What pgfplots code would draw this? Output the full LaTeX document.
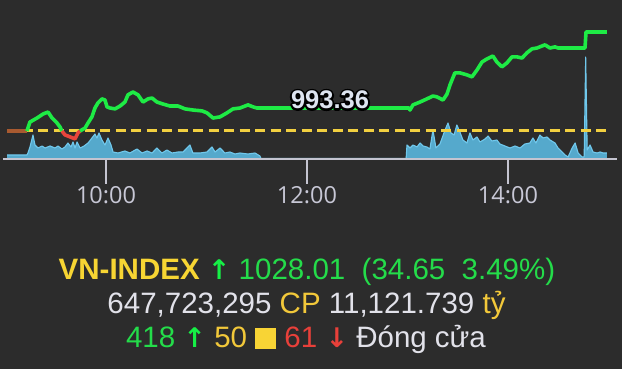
\documentclass[border=0pt]{standalone}
\usepackage{pgfplots}
\pgfplotsset{compat=1.18}
\usepackage{pgfplotstable}
\usepackage{fontspec}
\setmainfont{Liberation Sans}
\newfontfamily\tickfont{Open Sans}
\newfontfamily\arrowfont{DejaVu Sans}
\definecolor{bg}{HTML}{2C2C2C}
\definecolor{axisc}{HTML}{C4C4D0}
\definecolor{tickc}{HTML}{C8C8D6}
\definecolor{volfill}{HTML}{55A9CC}
\definecolor{volline}{HTML}{70C8EC}
\definecolor{refy}{HTML}{F2D040}
\definecolor{pgreen}{HTML}{1EEB45}
\definecolor{pred}{HTML}{E8453C}
\definecolor{pbrown}{HTML}{A85A30}
\definecolor{lbl}{HTML}{DDE4F0}
\definecolor{tyel}{HTML}{F7D533}
\definecolor{tyel2}{HTML}{F2C83A}
\definecolor{tgrn}{HTML}{24DC4A}
\definecolor{agrn}{HTML}{16F046}
\definecolor{tgrey}{HTML}{E2E2EA}
\definecolor{tred}{HTML}{E8403A}
\definecolor{sqy}{HTML}{F8D435}
\newcommand\up{{\arrowfont\bfseries\fontsize{27}{27}\selectfont ↑}}
\newcommand\down{{\arrowfont\bfseries\fontsize{27}{27}\selectfont ↓}}

\pgfplotstableread{
m vol
0.9 4
12.8 4
13.4 6
14.6 12
16.4 24
17.6 14
19.4 11
21.8 13
23.6 11
26.6 13
29.6 11
31.3 13
33.7 10
35.5 12
37.3 16
39.1 12
40.3 17
41.5 11
42.7 17
44.5 11
46.9 13
49.3 16
51.6 21
53.4 25
54.6 21
55.8 26
57.6 19
59.4 14
61.2 21
63.0 14
64.2 7
67.2 6
71.3 8
74.3 6
78.5 10
81.5 6
84.5 8
87.5 6
90.4 11
93.4 6
96.4 9
99.4 6
103.0 7
106.0 7
110.1 14
111.9 6
116.1 6
120.3 7
123.3 12
125.1 7
128.1 11
131.0 6
134.0 7
137.0 5
140.0 6
144.8 5
149.0 6
151.9 3
152.5 0.5
239.2 0.5
239.7 14
241.5 11
243.3 14
245.7 12
247.5 16
249.3 13
251.6 12
253.4 10
255.2 29
257.0 11
259.4 15
262.4 29
264.2 36
266.0 26
267.8 24
269.5 34
271.3 27
273.1 19
275.5 16
277.3 26
279.1 19
281.5 22
283.3 17
286.3 20
288.1 23
290.4 18
293.4 19
295.2 15
298.2 13
301.2 11
304.2 13
307.2 11
310.1 15
313.1 16
314.9 21
316.7 16
319.1 24
320.9 21
323.3 22
325.1 19
328.1 16
329.9 11
332.3 7
334.1 4
335.9 2
338.3 11
340.1 16
341.9 6
344.3 2
345.5 2
346.4 102
347.3 9
349.0 14
350.8 7
353.2 6
355.0 7
356.8 6
359.1 6
}\voltable

\begin{document}
\begin{tikzpicture}[x=1pt,y=1pt]
\fill[bg] (0,0) rectangle (622,369);
% volume
\begin{axis}[at={(3pt,210pt)}, anchor=south west, scale only axis,
  width=614pt, height=139pt, xmin=-1.5, xmax=365.1, ymin=0, ymax=139,
  hide axis, clip=false]
\addplot[fill=volfill, draw=none] table[x=m, y=vol] {\voltable} \closedcycle;
\addplot[draw=volline, line width=1.1pt, line join=round] table[x=m, y=vol] {\voltable};
\end{axis}
% price
\begin{axis}[at={(3pt,210pt)}, anchor=south west, scale only axis,
  width=614pt, height=139pt, xmin=-1.5, xmax=365.1, ymin=983.56, ymax=1032.21,
  axis x line*=bottom, axis y line=none,
  x axis line style={draw=axisc, line width=2.5pt, -},
  xtick={60,180,300}, xticklabels={10:00,12:00,14:00},
  tick align=outside, major tick length=25pt,
  xtick style={draw=axisc, line width=2pt},
  ytick=\empty,
  xticklabel style={font=\tickfont\fontsize{23.5}{23.5}\selectfont, text=tickc, yshift=1pt},
  clip=false]
\addplot[refy, line width=3pt, dash pattern=on 10pt off 5.5pt] coordinates {(0.9,993.36) (360.5,993.36)};
\addplot[pbrown, line width=3.5pt] coordinates {(0.9,993.36) (12.8,993.36)};
\addplot[pgreen, line width=3.6pt, line join=round] coordinates {(12.8,993.36) (14.6,996.5) (18.8,997.9) (22.4,999.3) (25.4,1000.0) (27.8,997.9) (30.7,996.2) (32.5,994.8) (33.7,993.36)};
\addplot[pred, line width=3.6pt, line join=round] coordinates {(33.7,993.36) (35.5,992.0) (38.5,991.3) (41.5,990.6) (43.3,992.7) (44.5,993.36)};
\addplot[pgreen, line width=3.6pt, line join=round] coordinates {(44.5,993.36) (47.5,994.4) (49.3,996.2) (51.6,998.3) (53.4,1001.4) (55.2,1003.2) (57.6,1004.6) (59.4,1004.2) (60.6,1001.8) (62.4,1001.4) (65.4,1001.1) (68.4,1002.1) (71.3,1003.5) (73.1,1006.0) (76.1,1007.0) (79.1,1006.0) (82.1,1003.5) (85.1,1004.6) (87.5,1004.9) (90.4,1003.5) (94.0,1002.8) (98.2,1002.1) (103.0,1002.1) (107.2,1001.1) (111.9,1000.7) (117.3,1000.4) (120.3,999.7) (123.9,997.9) (128.1,998.3) (132.2,999.7) (135.8,1001.1) (140.0,1001.4) (144.8,1002.5) (147.8,1001.8) (150.1,1001.4) (240.9,1001.4) (241.5,1000.7) (243.3,1002.5) (247.5,1003.5) (251.6,1004.6) (255.2,1005.6) (257.6,1005.3) (261.2,1004.2) (263.6,1006.3) (265.4,1009.5) (268.3,1013.7) (271.3,1013.7) (275.5,1013.0) (278.5,1012.3) (281.5,1014.7) (284.5,1017.5) (287.5,1018.6) (291.0,1019.6) (293.4,1017.5) (296.4,1015.8) (299.4,1017.2) (302.4,1019.3) (305.4,1019.3) (308.4,1018.9) (311.3,1020.7) (314.3,1022.1) (317.3,1022.4) (320.3,1023.1) (322.1,1023.5) (325.1,1022.4) (328.1,1022.8) (329.9,1022.4) (346.0,1022.4) (346.6,1028.01) (359.1,1028.01)};
\end{axis}
% 993.36 label with dark outline (stroked copy behind)
\node[text=black, inner sep=0, font=\bfseries\fontsize{25.5}{25.5}\selectfont] at (330,269)
  {\special{pdf:literal direct 0 0 0 RG 4 w 1 j 2 Tr}993.36\special{pdf:literal direct 0 Tr}};
\node[text=lbl, inner sep=0, font=\bfseries\fontsize{25.5}{25.5}\selectfont] at (330,269) {993.36};
% text block
\node[anchor=base, inner sep=0, font=\fontsize{29.5}{34}\selectfont] at (307,89.5)
  {{\bfseries\color{tyel}VN-INDEX} {\color{agrn}\up} {\color{tgrn}1028.01~~(34.65~~3.49\%)}};
\node[anchor=base, inner sep=0, font=\fontsize{29.5}{34}\selectfont] at (306.5,55.5)
  {{\color{tgrey}647,723,295} {\color{tyel2}CP} {\color{tgrey}11,121.739} {\color{tyel2}tỷ}};
\node[anchor=base, inner sep=0, font=\fontsize{29.5}{34}\selectfont] at (306,21.5)
  {{\color{tgrn}418} {\color{agrn}\up} {\color{tyel2}50} {\color{sqy}\rule[-1.5pt]{21pt}{21pt}} {\color{tred}61} {\color{tred}\down} {\color{tgrey}Đóng cửa}};
\end{tikzpicture}
\end{document}
